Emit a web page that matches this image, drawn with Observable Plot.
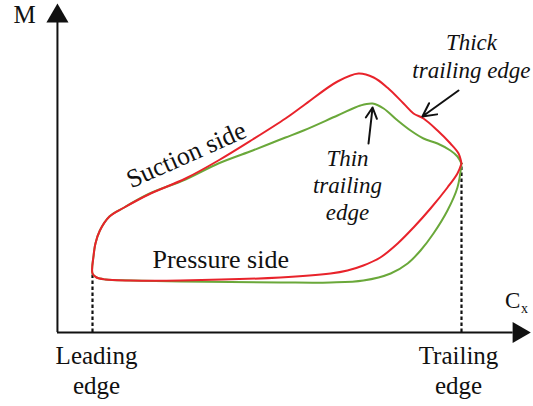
<!DOCTYPE html>
<html>
<head>
<meta charset="utf-8">
<script src="https://cdn.jsdelivr.net/npm/d3@7"></script>
<script src="https://cdn.jsdelivr.net/npm/@observablehq/plot@0.6"></script>
<style>
  html, body { margin: 0; padding: 0; background: #fff; }
  #chart svg, #chart svg text { font-family: "Liberation Serif", "Times New Roman", serif !important; }
</style>
</head>
<body>
<div id="chart"></div>
<script>
// Schematic Mach number (M) distribution along chord (Cx); leading edge Cx=0, trailing edge Cx=1
// [Cx, M] pairs, leading edge -> trailing edge
const redSuction = [
  [0, 0.57], [0.003, 0.75], [0.008, 0.87], [0.020, 1.00], [0.046, 1.14], [0.086, 1.23],
  [0.152, 1.36], [0.252, 1.52], [0.341, 1.70], [0.434, 1.91], [0.523, 2.12], [0.572, 2.25],
  [0.664, 2.49], [0.721, 2.57], [0.762, 2.53], [0.799, 2.43], [0.843, 2.27], [0.870, 2.17],
  [0.897, 2.12], [0.935, 2.00], [0.970, 1.87], [0.992, 1.77], [1.0, 1.67]
];
const redPressure = [
  [0, 0.57], [0.011, 0.53], [0.035, 0.51], [0.103, 0.50], [0.238, 0.50], [0.509, 0.53],
  [0.645, 0.57], [0.691, 0.60], [0.734, 0.65], [0.780, 0.73], [0.827, 0.87], [0.870, 1.03],
  [0.916, 1.22], [0.962, 1.43], [0.989, 1.57], [1.0, 1.67]
];
const greenSuction = [
  [0, 0.57], [0.003, 0.75], [0.008, 0.87], [0.020, 1.00], [0.046, 1.14], [0.086, 1.23],
  [0.152, 1.365], [0.252, 1.51], [0.341, 1.67], [0.434, 1.80], [0.482, 1.87], [0.523, 1.93],
  [0.572, 2.00], [0.664, 2.15], [0.726, 2.25], [0.759, 2.27], [0.789, 2.22], [0.827, 2.10],
  [0.862, 2.00], [0.897, 1.92], [0.935, 1.87], [0.970, 1.80], [0.989, 1.74], [1.0, 1.67]
];
const greenPressure = [
  [0, 0.57], [0.011, 0.53], [0.035, 0.51], [0.103, 0.50], [0.238, 0.49], [0.509, 0.48],
  [0.645, 0.48], [0.734, 0.50], [0.808, 0.57], [0.854, 0.67], [0.889, 0.80], [0.924, 0.97],
  [0.962, 1.20], [0.989, 1.43], [1.0, 1.67]
];
// Edge markers and annotation arrows
const edgeCx = [0, 1];
const edgeM = [0.57, 1.67];
const thickArrow = {x1: 0.992, y1: 2.40, x2: 0.894, y2: 2.14};
const thinArrow = {x1: 0.748, y1: 1.87, x2: 0.759, y2: 2.23};
// Axis extents (data units)
const axisCx = -0.095, axisM = -0.02, axisTopM = 3.08, axisRightCx = 1.14;

function loop(suction, pressure) {
  return [...suction.slice().reverse(), ...pressure.slice(1)].map(([x, y]) => ({x, y}));
}

const RED = "#e8232b", GREEN = "#6aa83a";
const SERIF = "Liberation Serif";

const chart = Plot.plot({
  width: 533,
  height: 406,
  margin: 0,
  x: {domain: [-92 / 369, 441 / 369], axis: null},
  y: {domain: [-0.76, 3.30], axis: null},
  style: {background: "#fff", color: "#111"},
  marks: [
    // axes
    Plot.ruleY([axisM], {x1: axisCx, x2: axisRightCx, stroke: "#111", strokeWidth: 2}),
    Plot.ruleX([axisCx], {y1: axisM, y2: axisTopM, stroke: "#111", strokeWidth: 2}),
    Plot.dot([{x: axisCx, y: 3.143}], {x: "x", y: "y", symbol: "triangle", r: 8.2, fill: "#111", stroke: null}),
    Plot.dot([{x: 1.155, y: axisM}], {x: "x", y: "y", symbol: "triangle", r: 7.8, fill: "#111", stroke: null, rotate: 90}),
    // dotted edge lines
    Plot.ruleX(edgeCx.map((x, i) => ({x, y: edgeM[i]})), {x: "x", y1: axisM, y2: "y", stroke: "#111", strokeWidth: 2.2, strokeDasharray: "3.5,2.5"}),
    // curves
    Plot.line(loop(greenSuction, greenPressure), {x: "x", y: "y", stroke: GREEN, strokeWidth: 2, curve: "catmull-rom"}),
    Plot.line(loop(redSuction, redPressure), {x: "x", y: "y", stroke: RED, strokeWidth: 2, curve: "catmull-rom"}),
    // annotation arrows
    Plot.arrow([thickArrow, thinArrow], {x1: "x1", y1: "y1", x2: "x2", y2: "y2", stroke: "#111", strokeWidth: 2, headLength: 13, headAngle: 55, inset: 0}),
    // labels
    Plot.text(["M"], {x: -0.184, y: 3.08, text: d => d, fontFamily: SERIF, fontSize: 25, textAnchor: "middle", lineAnchor: "bottom"}),
    Plot.text(["C"], {x: 1.118, y: 0.23, text: d => d, fontFamily: SERIF, fontSize: 23, textAnchor: "start", lineAnchor: "bottom"}),
    Plot.text(["x"], {x: 1.161, y: 0.18, text: d => d, fontFamily: SERIF, fontSize: 14, textAnchor: "start", lineAnchor: "bottom"}),
    Plot.text(["Leading\nedge"], {x: 0.011, y: -0.63, text: d => d, fontFamily: SERIF, fontSize: 25, lineHeight: 1.2, textAnchor: "middle", lineAnchor: "bottom"}),
    Plot.text(["Trailing\nedge"], {x: 0.992, y: -0.63, text: d => d, fontFamily: SERIF, fontSize: 25, lineHeight: 1.2, textAnchor: "middle", lineAnchor: "bottom"}),
    Plot.text(["Pressure side"], {x: 0.1626, y: 0.63, text: d => d, fontFamily: SERIF, fontSize: 26, textAnchor: "start", lineAnchor: "bottom"}),
    Plot.text(["Suction side"], {x: 0.263, y: 1.68, text: d => d, fontFamily: SERIF, fontSize: 26, rotate: -24, textAnchor: "middle", lineAnchor: "bottom"}),
    Plot.text(["Thin\ntrailing\nedge"], {x: 0.691, y: 1.11, text: d => d, fontFamily: SERIF, fontSize: 23, fontStyle: "italic", lineHeight: 1.17, textAnchor: "middle", lineAnchor: "bottom"}),
    Plot.text(["Thick\ntrailing edge"], {x: 1.027, y: 2.53, text: d => d, fontFamily: SERIF, fontSize: 23, fontStyle: "italic", lineHeight: 1.18, textAnchor: "middle", lineAnchor: "bottom"})
  ]
});
document.getElementById("chart").appendChild(chart);
</script>
</body>
</html>
